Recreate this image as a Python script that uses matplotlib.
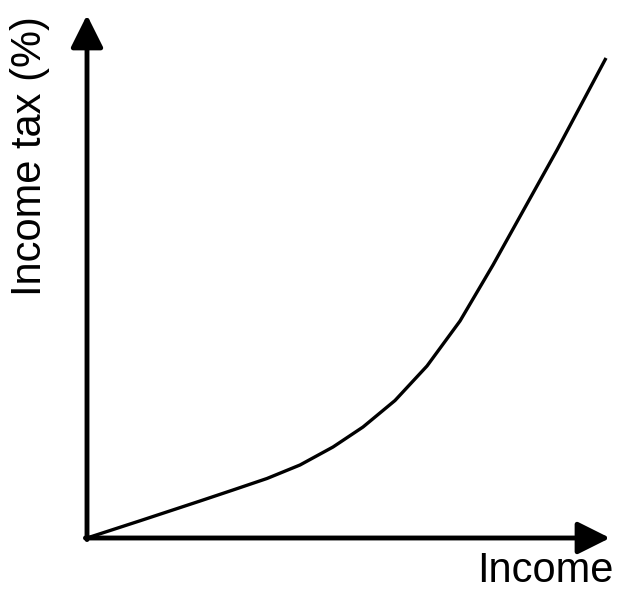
import numpy as np
import matplotlib.pyplot as plt

# 读图估计的曲线点 (income, tax), 任意单位
income = [0.0, 1.013, 2.161, 2.792, 3.442, 4.073, 4.704, 5.277, 5.889, 6.501, 7.132, 7.763, 8.337, 8.987, 9.618, 9.924]
tax = [0.0, 0.329, 0.707, 0.918, 1.138, 1.396, 1.740, 2.122, 2.629, 3.289, 4.149, 5.220, 6.252, 7.419, 8.604, 9.178]

x_label = "Income"
y_label = "Income tax (%)"

plt.rcParams['font.family'] = ['Liberation Sans', 'DejaVu Sans']

fig = plt.figure(figsize=(6.17, 5.94), dpi=100)
ax = fig.add_axes([0, 0, 1, 1])
ax.set_xlim(-87 / 52.3, 530 / 52.3)
ax.set_ylim(-56 / 52.3, 538 / 52.3)
ax.axis('off')

# 坐标轴箭头
arrow = dict(arrowstyle='-|>,head_length=0.9,head_width=0.45', color='black', lw=3.5,
             mutation_scale=22, shrinkA=0, shrinkB=0)
ax.annotate('', xy=(10.0, 0), xytext=(-0.03, 0), arrowprops=arrow)
ax.annotate('', xy=(0, 10.0), xytext=(0, -0.03), arrowprops=arrow)

ax.plot(income, tax, c='black', lw=2.4, solid_capstyle='butt', solid_joinstyle='round')

ax.text(8.76, -0.84, x_label, fontsize=30, ha='center', va='baseline')
ax.text(-1.09, 7.30, y_label, fontsize=30, ha='center', va='center', rotation=90)

fig.savefig('out.png', dpi=100)
